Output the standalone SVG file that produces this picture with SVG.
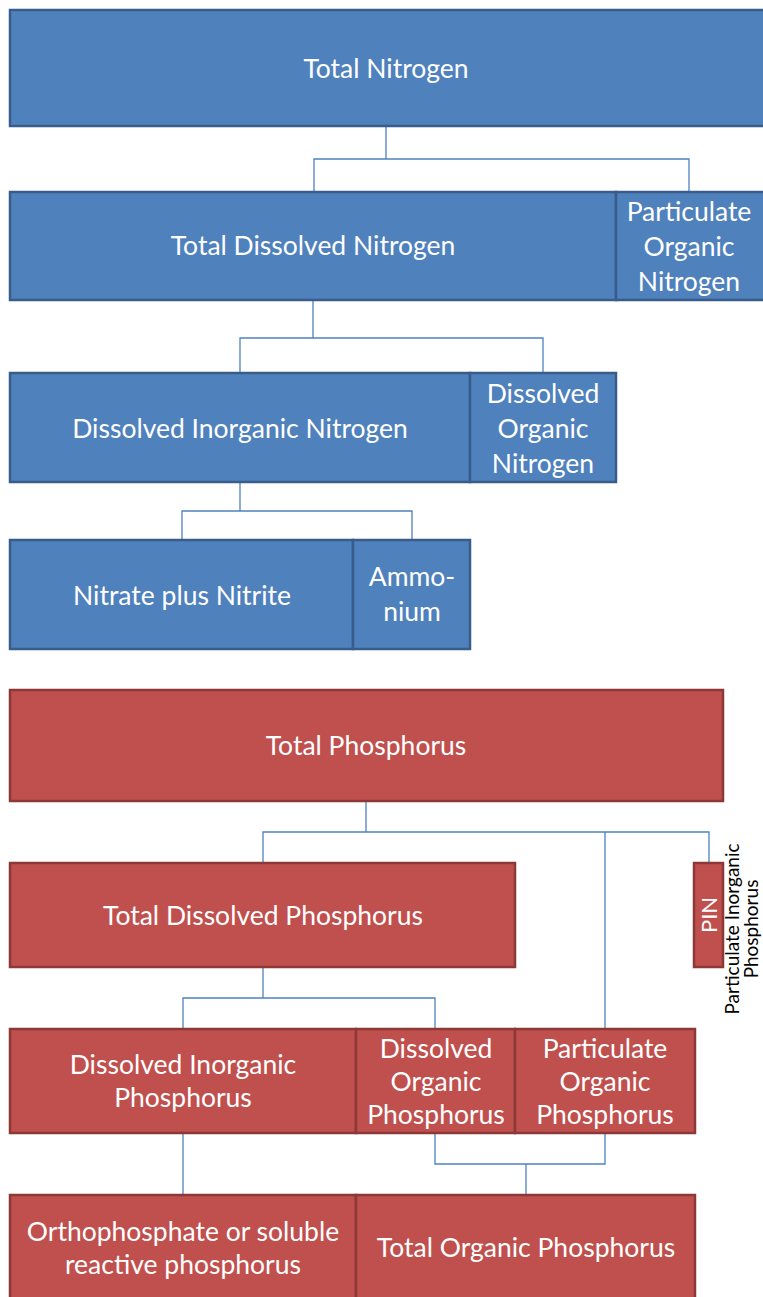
<svg xmlns="http://www.w3.org/2000/svg" width="763" height="1297" viewBox="0 0 763 1297">
<style>
.b{fill:#4f81bd;stroke:#385d8a;stroke-width:2.5}
.r{fill:#c0504d;stroke:#8c3836;stroke-width:2.5}
.t{font-family:Lato,"Open Sans",sans-serif;font-size:26.5px;fill:#fff;text-anchor:middle}
.c{fill:none;stroke:#4f81bd;stroke-width:1.3}
.k{font-family:Lato,"Open Sans",sans-serif;font-size:19px;fill:#000;text-anchor:middle}
</style>
<rect width="763" height="1297" fill="#fff"/>
<g id="connectors">
<path class="c" d="M386,126V159M314,191V159H689V191"/>
<path class="c" d="M313,300V338M240,373V338H543V373"/>
<path class="c" d="M240,482V511M182,540V511H412V540"/>
<path class="c" d="M366,801V832M263,863V832H709V863M605,832V1029"/>
<path class="c" d="M263,967V998M183,1029V998H435V1029"/>
<path class="c" d="M183,1133V1195M435,1133V1164H605V1133M526,1164V1195"/>
</g>
<g id="tn"><rect class="b" x="10" y="10" width="760" height="116"/><text class="t" x="386" y="78">Total Nitrogen</text></g>
<g id="tdn"><rect class="b" x="10" y="192" width="606" height="108"/><text class="t" x="313" y="255">Total Dissolved Nitrogen</text></g>
<g id="pon"><rect class="b" x="616" y="192" width="154" height="108"/><text class="t" x="689" y="221">Particulate</text><text class="t" x="689" y="256">Organic</text><text class="t" x="689" y="291">Nitrogen</text></g>
<g id="din"><rect class="b" x="10" y="373" width="460" height="109"/><text class="t" x="240" y="438">Dissolved Inorganic Nitrogen</text></g>
<g id="don"><rect class="b" x="470" y="373" width="146" height="109"/><text class="t" x="543" y="403">Dissolved</text><text class="t" x="543" y="438">Organic</text><text class="t" x="543" y="473">Nitrogen</text></g>
<g id="npn"><rect class="b" x="10" y="540" width="343" height="109"/><text class="t" x="182" y="605">Nitrate plus Nitrite</text></g>
<g id="amm"><rect class="b" x="353" y="540" width="117" height="109"/><text class="t" x="412" y="586">Ammo-</text><text class="t" x="412" y="621">nium</text></g>
<g id="tp"><rect class="r" x="10" y="690" width="713" height="111"/><text class="t" x="366" y="755">Total Phosphorus</text></g>
<g id="tdp"><rect class="r" x="10" y="863" width="505" height="104"/><text class="t" x="263" y="925">Total Dissolved Phosphorus</text></g>
<g id="pin"><rect class="r" x="694" y="863" width="29" height="104"/><text class="t" transform="translate(717,915) rotate(-90)" style="font-size:22px">PIN</text>
<text class="k" transform="translate(739,929) rotate(-90)">Particulate Inorganic</text><text class="k" transform="translate(758,929) rotate(-90)">Phosphorus</text></g>
<g id="dip"><rect class="r" x="10" y="1029" width="346" height="104"/><text class="t" x="183" y="1074">Dissolved Inorganic</text><text class="t" x="183" y="1107">Phosphorus</text></g>
<g id="dop"><rect class="r" x="356" y="1029" width="159" height="104"/><text class="t" x="436" y="1058">Dissolved</text><text class="t" x="436" y="1091">Organic</text><text class="t" x="436" y="1124">Phosphorus</text></g>
<g id="pop"><rect class="r" x="515" y="1029" width="180" height="104"/><text class="t" x="605" y="1058">Particulate</text><text class="t" x="605" y="1091">Organic</text><text class="t" x="605" y="1124">Phosphorus</text></g>
<g id="ortho"><rect class="r" x="10" y="1195" width="346" height="110"/><text class="t" x="183" y="1241">Orthophosphate or soluble</text><text class="t" x="183" y="1274">reactive phosphorus</text></g>
<g id="top"><rect class="r" x="356" y="1195" width="339" height="110"/><text class="t" x="526" y="1257">Total Organic Phosphorus</text></g>
</svg>
